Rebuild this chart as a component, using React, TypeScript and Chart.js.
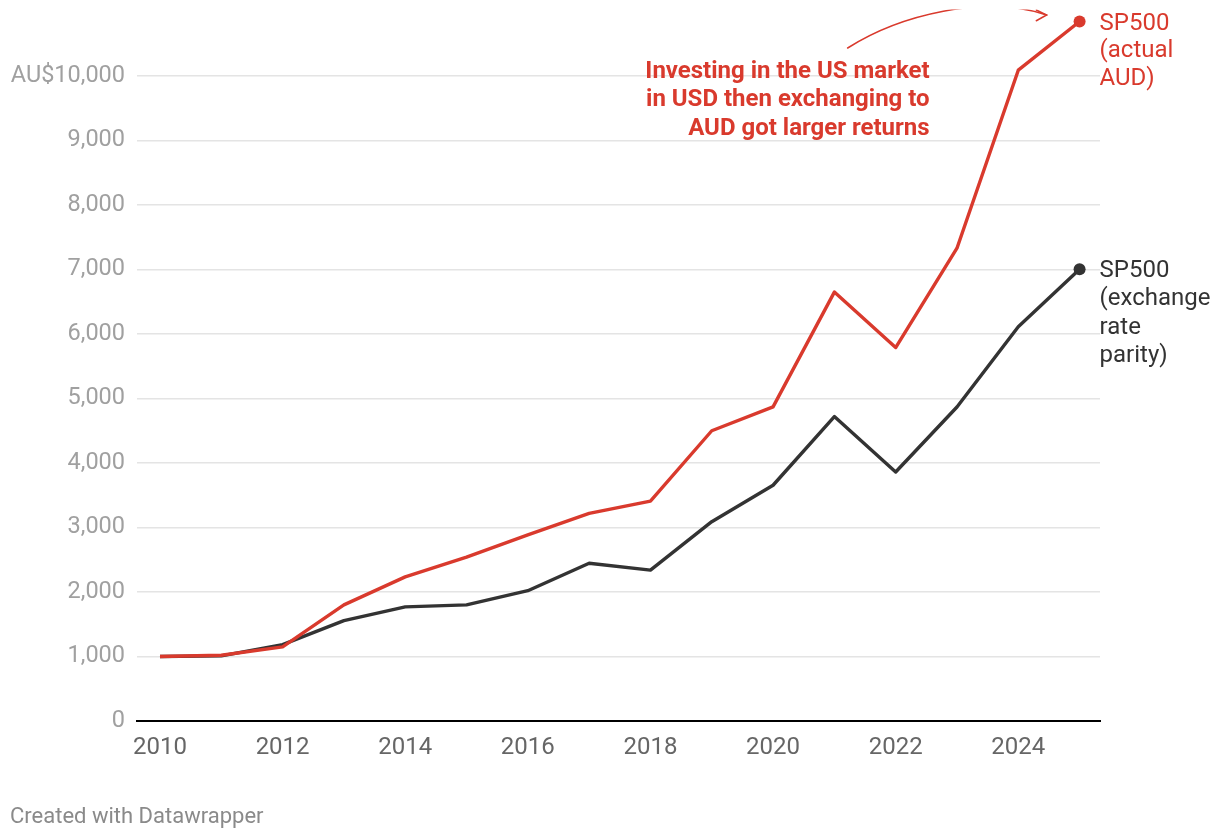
import React, { useEffect, useRef } from "react";
import { Chart, registerables } from "chart.js";

Chart.register(...registerables);

// ---- data ----
const years = [2010, 2011, 2012, 2013, 2014, 2015, 2016, 2017, 2018, 2019, 2020, 2021, 2022, 2023, 2024, 2025];
const actualAUD = [1000, 1020, 1150, 1800, 2235, 2540, 2885, 3220, 3410, 4500, 4870, 6650, 5790, 7330, 10090, 10845];
const parity = [1000, 1010, 1185, 1555, 1770, 1800, 2020, 2445, 2340, 3090, 3655, 4720, 3860, 4868, 6113, 7003];
const xTickLabels = [2010, 2012, 2014, 2016, 2018, 2020, 2022, 2024];
const yTickValues = [0, 1000, 2000, 3000, 4000, 5000, 6000, 7000, 8000, 9000, 10000];
const actualLabel = ["SP500", "(actual", "AUD)"];
const parityLabel = ["SP500", "(exchange", "rate", "parity)"];
const noteLines = ["Investing in the US market", "in USD then exchanging to", "AUD got larger returns"];
const footerText = "Created with Datawrapper";

// annotation anchors (data space)
const noteAnchor = { x: 2022.554, y: 9969 };
const arrowCurve = [
  { x: 2021.217, y: 10434 },
  { x: 2022.065, y: 10946 },
  { x: 2023.451, y: 11271 },
  { x: 2024.462, y: 10946 },
];
const arrowWings = [
  { x: 2024.294, y: 11023 },
  { x: 2024.294, y: 10857 },
];

const RED = "#d93a2d";
const DARK = "#333333";
const FONT = "Roboto";

const overlayPlugin = {
  id: "overlay",
  afterDatasetsDraw(chart: any) {
    const { ctx, scales, chartArea } = chart;
    const xs = scales.x;
    const ys = scales.y;
    const last = years.length - 1;
    ctx.save();

    const drawBlock = (lines: string[], px: number, py: number, color: string, font: string, align: CanvasTextAlign, lh: number) => {
      ctx.font = font;
      ctx.fillStyle = color;
      ctx.textAlign = align;
      ctx.textBaseline = "alphabetic";
      lines.forEach((l, i) => ctx.fillText(l, px, py + i * lh));
    };

    // end labels
    const ax = xs.getPixelForValue(years[last]) + 20;
    drawBlock(actualLabel, ax, ys.getPixelForValue(actualAUD[last]) + 8.3, RED, `400 24px ${FONT}`, "left", 27.6);
    drawBlock(parityLabel, ax, ys.getPixelForValue(parity[last]) + 8, DARK, `400 24px ${FONT}`, "left", 28.1);

    // note
    drawBlock(noteLines, xs.getPixelForValue(noteAnchor.x), ys.getPixelForValue(noteAnchor.y), RED, `700 24px ${FONT}`, "right", 28.5);

    // arrow (clipped slightly above plot top)
    ctx.save();
    ctx.beginPath();
    ctx.rect(0, chartArea.top - 2, chart.width, chart.height);
    ctx.clip();
    const p = arrowCurve.map((q) => [xs.getPixelForValue(q.x), ys.getPixelForValue(q.y)]);
    ctx.strokeStyle = RED;
    ctx.lineWidth = 1.5;
    ctx.lineCap = "round";
    ctx.beginPath();
    ctx.moveTo(p[0][0], p[0][1]);
    ctx.bezierCurveTo(p[1][0], p[1][1], p[2][0], p[2][1], p[3][0], p[3][1]);
    ctx.stroke();
    ctx.beginPath();
    const w = arrowWings.map((q) => [xs.getPixelForValue(q.x), ys.getPixelForValue(q.y)]);
    ctx.moveTo(w[0][0], w[0][1]);
    ctx.lineTo(p[3][0], p[3][1]);
    ctx.lineTo(w[1][0], w[1][1]);
    ctx.stroke();
    ctx.restore();

    // footer
    ctx.font = `400 22px ${FONT}`;
    ctx.fillStyle = "#8a8a8a";
    ctx.textAlign = "left";
    ctx.textBaseline = "alphabetic";
    ctx.fillText(footerText, 10, chart.height - 15.5);

    ctx.restore();
  },
};

export default function App() {
  const ref = useRef<HTMLCanvasElement>(null);

  useEffect(() => {
    document.body.style.margin = "0";
    const canvas = ref.current!;
    const last = years.length - 1;
    const chart = new Chart(canvas, {
      type: "line",
      data: {
        datasets: [
          {
            label: "SP500 (actual AUD)",
            data: years.map((y, i) => ({ x: y, y: actualAUD[i] })),
            borderColor: RED,
            backgroundColor: RED,
            borderWidth: 3.4,
            borderJoinStyle: "round",
            pointRadius: (c: any) => (c.dataIndex === last ? 6 : 0),
            pointBorderWidth: 0,
            pointBackgroundColor: RED,
            tension: 0,
            clip: false as any,
          },
          {
            label: "SP500 (exchange rate parity)",
            data: years.map((y, i) => ({ x: y, y: parity[i] })),
            borderColor: DARK,
            backgroundColor: DARK,
            borderWidth: 3.4,
            borderJoinStyle: "round",
            pointRadius: (c: any) => (c.dataIndex === last ? 6 : 0),
            pointBorderWidth: 0,
            pointBackgroundColor: DARK,
            tension: 0,
            clip: false as any,
          },
        ],
      },
      options: {
        animation: false,
        responsive: false,
        devicePixelRatio: 1,
        layout: { padding: { top: 11.5, right: 120, bottom: 40, left: 0 } },
        plugins: { legend: { display: false }, tooltip: { enabled: false } },
        scales: {
          x: {
            type: "linear",
            min: 2009.625,
            max: 2025.333,
            afterBuildTicks: (s: any) => {
              s.ticks = xTickLabels.map((v) => ({ value: v }));
            },
            afterFit: (s: any) => {
              s.height = 838 - 721 - 40;
              s.paddingLeft = 0;
              s.paddingRight = 0;
            },
            grid: { display: false, drawTicks: false },
            border: { display: true, color: "#000000", width: 2 },
            ticks: {
              padding: 13,
              color: "#666666",
              font: { family: FONT, size: 24 },
              maxRotation: 0,
              callback: (v: any) => String(v),
            },
          },
          y: {
            min: 0,
            max: 11000,
            afterBuildTicks: (s: any) => {
              s.ticks = yTickValues.map((v) => ({ value: v }));
            },
            afterFit: (s: any) => {
              s.width = 137;
              s.paddingTop = 0;
              s.paddingBottom = 0;
            },
            grid: {
              color: (c: any) => (c.tick && c.tick.value === 0 ? "rgba(0,0,0,0)" : "#e4e4e4"),
              lineWidth: 1.6,
              drawTicks: false,
            },
            border: { display: false },
            ticks: {
              padding: 12,
              color: "#a0a0a0",
              font: { family: FONT, size: 23.5 },
              callback: (v: any) => (v === 10000 ? "AU$10,000" : Number(v).toLocaleString("en-US")),
            },
          },
        },
      },
      plugins: [overlayPlugin],
    });
    return () => chart.destroy();
  }, []);

  return (
    <div style={{ position: "relative", width: 1220, height: 838, background: "#ffffff" }}>
      <canvas ref={ref} width={1220} height={838} style={{ display: "block", width: 1220, height: 838 }} />
    </div>
  );
}
